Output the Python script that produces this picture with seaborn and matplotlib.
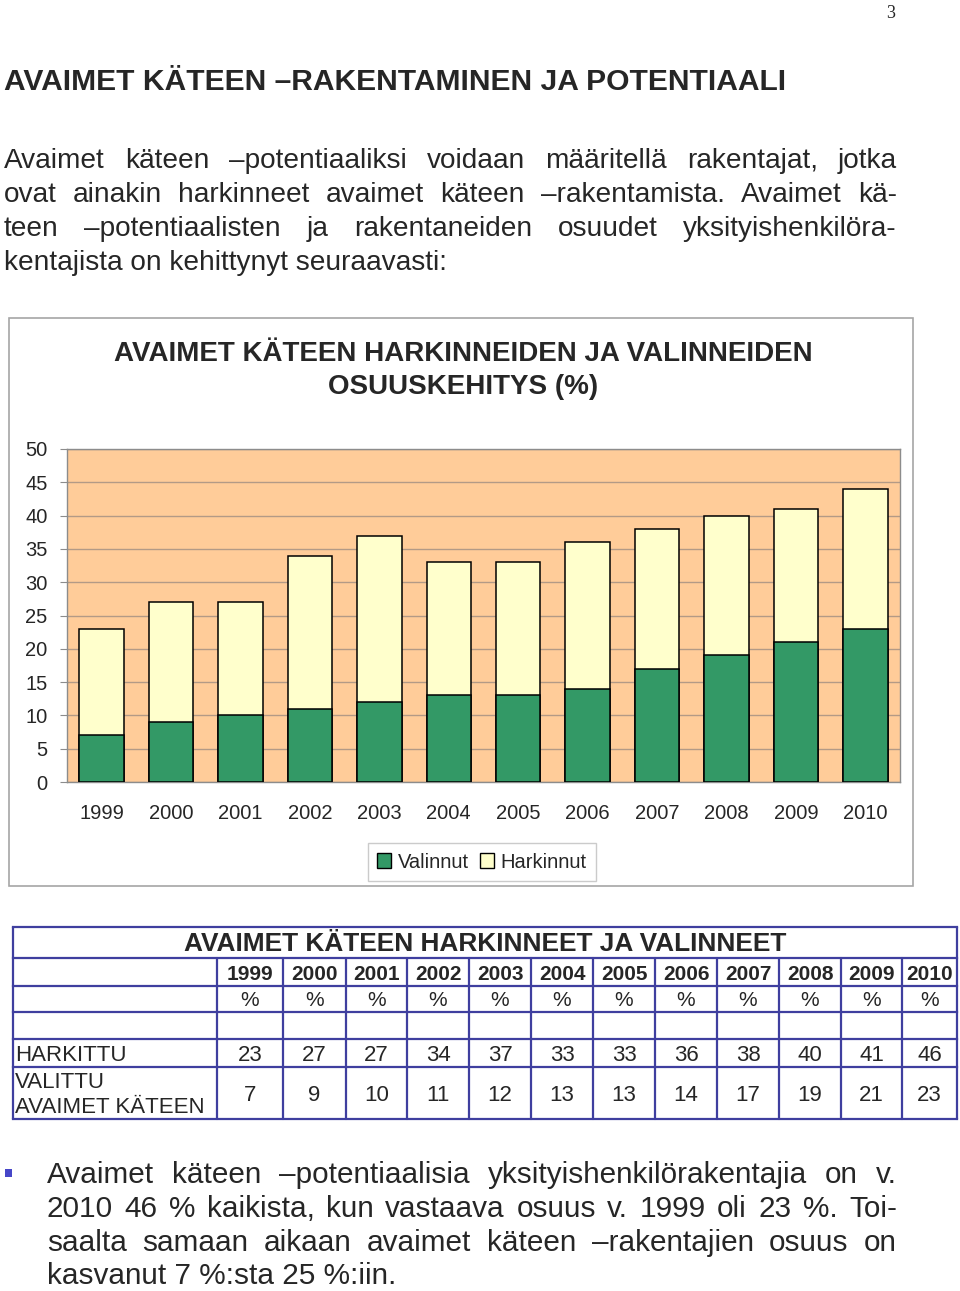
import matplotlib
matplotlib.use("Agg")
import matplotlib.pyplot as plt
from matplotlib.patches import Rectangle, Patch
import seaborn as sns
import pandas as pd

# ---------------- data ----------------
years = ['1999', '2000', '2001', '2002', '2003', '2004', '2005', '2006', '2007', '2008', '2009', '2010']
# values as drawn in the bar chart (2010 bar reaches ~44 in the picture)
chart_harkinnut = [23, 27, 27, 34, 37, 33, 33, 36, 38, 40, 41, 44]
chart_valinnut = [7, 9, 10, 11, 12, 13, 13, 14, 17, 19, 21, 23]
# values printed in the table
table_harkittu = [23, 27, 27, 34, 37, 33, 33, 36, 38, 40, 41, 46]
table_valittu = [7, 9, 10, 11, 12, 13, 13, 14, 17, 19, 21, 23]
yticks = [0, 5, 10, 15, 20, 25, 30, 35, 40, 45, 50]

heading = "AVAIMET KÄTEEN –RAKENTAMINEN JA POTENTIAALI"
para_lines = [
    "Avaimet käteen –potentiaaliksi voidaan määritellä rakentajat, jotka",
    "ovat ainakin harkinneet avaimet käteen –rakentamista. Avaimet kä-",
    "teen –potentiaalisten ja rakentaneiden osuudet yksityishenkilöra-",
    "kentajista on kehittynyt seuraavasti:",
]
chart_title = ["AVAIMET KÄTEEN HARKINNEIDEN JA VALINNEIDEN", "OSUUSKEHITYS (%)"]
table_title = "AVAIMET KÄTEEN HARKINNEET JA VALINNEET"
row_harkittu = "HARKITTU"
row_valittu = ["VALITTU", "AVAIMET KÄTEEN"]
bullet_lines = [
    "Avaimet käteen –potentiaalisia yksityishenkilörakentajia on v.",
    "2010 46 % kaikista, kun vastaava osuus v. 1999 oli  23 %. Toi-",
    "saalta samaan aikaan avaimet käteen –rakentajien osuus on",
    "kasvanut 7 %:sta 25 %:iin.",
]

df = pd.DataFrame({"Vuosi": years, "Harkinnut": chart_harkinnut, "Valinnut": chart_valinnut})

GREEN = "#339966"
YELLOW = "#FFFFCC"
PEACH = "#FFCC99"
TBL = "#3F3F9F"

sns.set_style("white")
plt.rcParams["font.family"] = ["Liberation Sans", "DejaVu Sans"]

W, H = 960, 1291
fig = plt.figure(figsize=(W / 100, H / 100), dpi=100)

# overlay in pixel coordinates
ov = fig.add_axes([0, 0, 1, 1])
ov.set_xlim(0, W)
ov.set_ylim(H, 0)
ov.axis("off")

renderer = fig.canvas.get_renderer()


def justify(line, x0, x1, y, size, weight="normal"):
    words = line.split()
    texts = [ov.text(0, y, w, fontsize=size, va="baseline", ha="left", weight=weight) for w in words]
    widths = [t.get_window_extent(renderer).width for t in texts]
    gap = (x1 - x0 - sum(widths)) / max(len(words) - 1, 1)
    x = x0
    for t, w in zip(texts, widths):
        t.set_x(x)
        x += w + gap


# page number
ov.text(891, 18, "3", fontsize=13, family="Liberation Serif", ha="center", va="baseline")

# heading
ov.text(4, 90, heading, fontsize=21.6, weight="bold", ha="left", va="baseline")

# paragraph
para_base = [168, 202, 236, 270]
for i, (ln, yb) in enumerate(zip(para_lines, para_base)):
    if i < len(para_lines) - 1:
        justify(ln, 4, 897, yb, 20.2)
    else:
        ov.text(4, yb, ln, fontsize=20.2, ha="left", va="baseline")

# chart frame
ov.add_patch(Rectangle((9, 318), 904, 568, fill=False, edgecolor="#A6A6A6", lw=1.2))
ov.text(463, 361, chart_title[0], fontsize=20, weight="bold", ha="center", va="baseline")
ov.text(463, 394, chart_title[1], fontsize=20, weight="bold", ha="center", va="baseline")

# ---------------- chart ----------------
ax = fig.add_axes([67 / W, (H - 782) / H, 833 / W, 333 / H])
ax.set_facecolor(PEACH)
sns.barplot(data=df, x="Vuosi", y="Harkinnut", color=YELLOW, saturation=1,
            edgecolor="black", linewidth=1.1, width=0.64, ax=ax, zorder=2)
sns.barplot(data=df, x="Vuosi", y="Valinnut", color=GREEN, saturation=1,
            edgecolor="black", linewidth=1.1, width=0.64, ax=ax, zorder=3)
ax.set_ylim(0, 50)
ax.set_xlim(-0.5, len(years) - 0.5)
ax.set_yticks(yticks)
ax.set_yticklabels([str(v) for v in yticks])
ax.yaxis.grid(True, color="#B39A86", lw=1, zorder=0)
ax.set_axisbelow(True)
ax.set_xlabel("")
ax.set_ylabel("")
for s in ax.spines.values():
    s.set_color("#8C8C8C")
    s.set_linewidth(1)
ax.tick_params(axis="y", length=5, color="#8C8C8C", pad=9, labelsize=14.5, left=True)
ax.tick_params(axis="x", length=0, pad=16, labelsize=14.5)

handles = [Patch(facecolor=GREEN, edgecolor="black", lw=1, label="Valinnut"),
           Patch(facecolor=YELLOW, edgecolor="black", lw=1, label="Harkinnut")]
leg = fig.legend(handles=handles, loc="center", bbox_to_anchor=(482 / W, 1 - 862 / H),
                 ncol=2, fontsize=14.5, frameon=True, fancybox=False,
                 handlelength=0.7, handleheight=0.7, handletextpad=0.35,
                 columnspacing=0.5, borderpad=0.45)
leg.get_frame().set_edgecolor("#BFBFBF")
leg.get_frame().set_linewidth(1)

# ---------------- table ----------------
col_edges = [13, 217, 283, 346, 407, 469, 531, 593, 655, 717, 779, 841, 902, 957]
row_edges = [927, 958, 986, 1012, 1039, 1067, 1119]
lw = 1.6
for y in row_edges:
    ov.plot([col_edges[0], col_edges[-1]], [y, y], color=TBL, lw=lw, solid_capstyle="projecting")
ov.plot([col_edges[0]] * 2, [row_edges[0], row_edges[-1]], color=TBL, lw=lw)
ov.plot([col_edges[-1]] * 2, [row_edges[0], row_edges[-1]], color=TBL, lw=lw)
for x in col_edges[1:-1]:
    ov.plot([x, x], [row_edges[1], row_edges[-1]], color=TBL, lw=lw)

ov.text(485, 951, table_title, fontsize=18.9, weight="bold", ha="center", va="baseline")
for i, yr in enumerate(years):
    cx = (col_edges[i + 1] + col_edges[i + 2]) / 2
    ov.text(cx, 979.5, yr, fontsize=15, weight="bold", ha="center", va="baseline")
    ov.text(cx, 1006, "%", fontsize=15, ha="center", va="baseline")
    ov.text(cx, 1061, str(table_harkittu[i]), fontsize=16, ha="center", va="baseline")
    ov.text(cx, 1101, str(table_valittu[i]), fontsize=16, ha="center", va="baseline")
ov.text(15, 1061, row_harkittu, fontsize=16, ha="left", va="baseline")
ov.text(15, 1088, row_valittu[0], fontsize=16, ha="left", va="baseline")
ov.text(15, 1113, row_valittu[1], fontsize=16, ha="left", va="baseline")

# ---------------- bullet ----------------
ov.add_patch(Rectangle((5, 1169), 7, 8, facecolor="#4646C8", edgecolor="none"))
bullet_base = [1183, 1217, 1251, 1284]
for i, (ln, yb) in enumerate(zip(bullet_lines, bullet_base)):
    if i < len(bullet_lines) - 1:
        justify(ln, 47, 897, yb, 21.4)
    else:
        ov.text(47, yb, ln, fontsize=21.4, ha="left", va="baseline")

fig.savefig("out.png", dpi=100)
